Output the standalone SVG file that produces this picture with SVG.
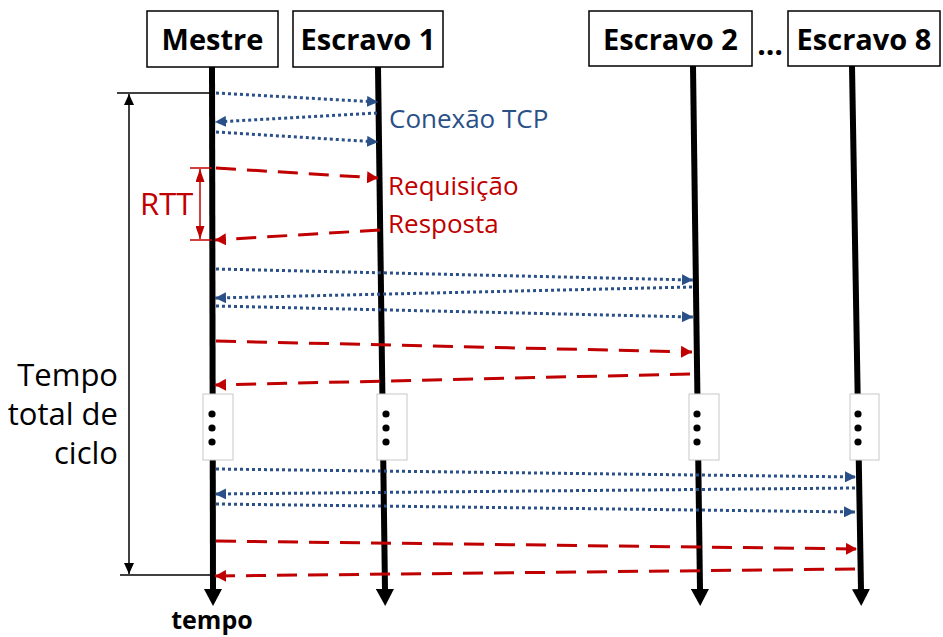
<svg xmlns="http://www.w3.org/2000/svg" width="943" height="637" viewBox="0 0 943 637">
<style>
.box{fill:#fff;stroke:#000;stroke-width:1.5}
.title{font-family:"Open Sans",Lato,sans-serif;font-weight:bold;font-size:29px;fill:#000;text-anchor:middle}
.life{stroke:#000;stroke-width:6;fill:none}
.blue{stroke:#2A5088;stroke-width:3;stroke-dasharray:3 3;fill:none}
.red{stroke:#C00000;stroke-width:3;stroke-dasharray:20 11;fill:none}
.thin{stroke:#000;stroke-width:1.5;fill:none}
.rthin{stroke:#C00000;stroke-width:1.5;fill:none}
.lbl{font-family:"Open Sans",Lato,sans-serif;font-size:26px}
.big{font-family:"Open Sans",Lato,sans-serif;font-size:31px;fill:#000;text-anchor:end}
.gap{fill:#fff;stroke:#c8c8c8;stroke-width:1}
</style>
<defs>
<marker id="lh" markerUnits="userSpaceOnUse" viewBox="0 0 17 18" markerWidth="17" markerHeight="18" refX="1" refY="9" orient="auto"><path d="M0,0 L17,9 L0,18 z" fill="#000"/></marker>
<marker id="bh" markerUnits="userSpaceOnUse" viewBox="0 0 11 11" markerWidth="11" markerHeight="11" refX="11" refY="5.5" orient="auto"><path d="M0,0 L11,5.5 L0,11 z" fill="#2A5088"/></marker>
<marker id="rh" markerUnits="userSpaceOnUse" viewBox="0 0 11 12" markerWidth="11" markerHeight="12" refX="11" refY="6" orient="auto"><path d="M0,0 L11,6 L0,12 z" fill="#C00000"/></marker>
<marker id="kh" markerUnits="userSpaceOnUse" viewBox="0 0 11 10" markerWidth="11" markerHeight="10" refX="11" refY="5" orient="auto"><path d="M0,0 L11,5 L0,10 z" fill="#000"/></marker>
<marker id="rth" markerUnits="userSpaceOnUse" viewBox="0 0 13 9" markerWidth="13" markerHeight="9" refX="13" refY="4.5" orient="auto"><path d="M0,0 L13,4.5 L0,9 z" fill="#C00000"/></marker>
<g id="dots3"><circle cx="0" cy="0" r="3.6" fill="#000"/><circle cx="0" cy="14" r="3.6" fill="#000"/><circle cx="0" cy="28" r="3.6" fill="#000"/></g>
</defs>

<g id="lifelines">
<line class="life" x1="212" y1="67" x2="213" y2="590" marker-end="url(#lh)"/>
<line class="life" x1="378" y1="67" x2="385" y2="590" marker-end="url(#lh)"/>
<line class="life" x1="693" y1="66" x2="700" y2="590" marker-end="url(#lh)"/>
<line class="life" x1="852" y1="66" x2="861" y2="590" marker-end="url(#lh)"/>
</g>

<g id="node-mestre"><rect class="box" x="147" y="11" width="131" height="56"/><text class="title" x="212.5" y="50">Mestre</text></g>
<g id="node-escravo1"><rect class="box" x="293" y="11" width="150" height="56"/><text class="title" x="368" y="50">Escravo 1</text></g>
<g id="node-escravo2"><rect class="box" x="589" y="11" width="163" height="55"/><text class="title" x="670.5" y="50">Escravo 2</text></g>
<g id="node-escravo8"><rect class="box" x="788" y="11" width="152" height="55"/><text class="title" x="864" y="50">Escravo 8</text></g>
<text x="770" y="55" font-family="'Open Sans',Lato,sans-serif" font-weight="bold" font-size="30" text-anchor="middle">…</text>

<g id="gaps">
<rect class="gap" x="203" y="394" width="30" height="66"/><use href="#dots3" x="212" y="414"/>
<rect class="gap" x="377" y="394" width="30" height="66"/><use href="#dots3" x="386" y="414"/>
<rect class="gap" x="689" y="394" width="30" height="66"/><use href="#dots3" x="697" y="414"/>
<rect class="gap" x="850" y="394" width="29" height="66"/><use href="#dots3" x="858" y="414"/>
</g>

<g id="connectors">
<line class="blue" x1="216" y1="93" x2="378" y2="102" marker-end="url(#bh)"/>
<line class="blue" x1="377" y1="113" x2="215" y2="122" marker-end="url(#bh)"/>
<line class="blue" x1="216" y1="132" x2="378" y2="142" marker-end="url(#bh)"/>
<line class="red" x1="216" y1="168" x2="378" y2="178" marker-end="url(#rh)"/>
<line class="red" x1="380" y1="230" x2="215" y2="240" marker-end="url(#rh)"/>

<line class="blue" x1="216" y1="269" x2="693" y2="280" marker-end="url(#bh)"/>
<line class="blue" x1="692" y1="287" x2="215" y2="298" marker-end="url(#bh)"/>
<line class="blue" x1="216" y1="306" x2="693" y2="317" marker-end="url(#bh)"/>
<line class="red" x1="216" y1="341" x2="692" y2="352" marker-end="url(#rh)"/>
<line class="red" x1="690" y1="374" x2="215" y2="385" marker-end="url(#rh)"/>

<line class="blue" x1="216" y1="469" x2="856" y2="477" marker-end="url(#bh)"/>
<line class="blue" x1="855" y1="488" x2="215" y2="494" marker-end="url(#bh)"/>
<line class="blue" x1="216" y1="504" x2="855" y2="512" marker-end="url(#bh)"/>
<line class="red" x1="216" y1="541" x2="857" y2="549" marker-end="url(#rh)"/>
<line class="red" x1="855" y1="569" x2="215" y2="576" marker-end="url(#rh)"/>

<line class="thin" x1="117" y1="93" x2="212" y2="93"/>
<line class="thin" x1="120" y1="575" x2="212" y2="575"/>
<line class="thin" x1="129" y1="334" x2="129" y2="94" marker-end="url(#kh)"/>
<line class="thin" x1="129" y1="334" x2="129" y2="574" marker-end="url(#kh)"/>

<line class="rthin" x1="190" y1="168" x2="212" y2="168"/>
<line class="rthin" x1="190" y1="240" x2="212" y2="240"/>
<line class="rthin" x1="200" y1="204" x2="200" y2="169" marker-end="url(#rth)"/>
<line class="rthin" x1="200" y1="204" x2="200" y2="239" marker-end="url(#rth)"/>
</g>

<g id="labels">
<text class="lbl" x="389" y="128" fill="#2A5088">Conexão TCP</text>
<text class="lbl" x="388" y="195" fill="#C00000">Requisição</text>
<text class="lbl" x="388" y="233" fill="#C00000">Resposta</text>
<text class="lbl" x="140" y="215" fill="#C00000" style="font-size:31px">RTT</text>
<text class="big" x="118" y="386">Tempo</text>
<text class="big" x="118" y="425">total de</text>
<text class="big" x="118" y="464">ciclo</text>
<text x="212" y="629" font-family="'Open Sans',Lato,sans-serif" font-weight="bold" font-size="25" text-anchor="middle" fill="#000">tempo</text>
</g>
</svg>
